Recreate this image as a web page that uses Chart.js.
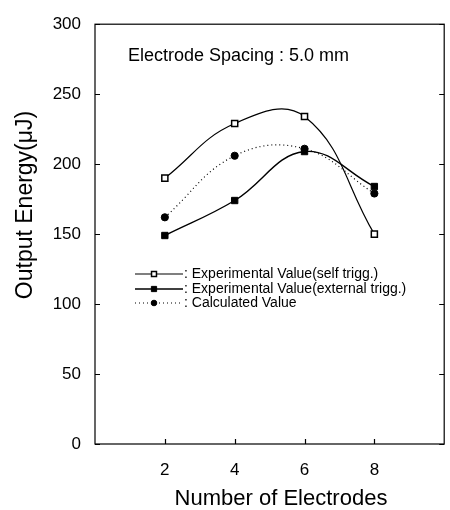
<!DOCTYPE html>
<html>
<head>
<meta charset="utf-8">
<script src="https://cdn.jsdelivr.net/npm/chart.js@4.4.1/dist/chart.umd.min.js"></script>
<style>
  body { margin: 0; background: #fff; }
  #wrap { width: 450px; height: 510px; }
</style>
</head>
<body>
<div id="wrap"><canvas id="energyChart"></canvas></div>
<script>
// DATA
const electrodes = [2, 4, 6, 8];
const selfTrigg = [190, 229, 234, 150];
const externalTrigg = [149, 174, 209, 184];
const calculated = [162, 206, 211, 179];
const xTicks = [2, 4, 6, 8];
const yTicks = [0, 50, 100, 150, 200, 250, 300];
const seriesLabels = [
    'Experimental Value(self trigg.)',
    'Experimental Value(external trigg.)',
    'Calculated Value'
];
const noteText = 'Electrode Spacing : 5.0 mm';
const xTitle = 'Number of Electrodes';
const yTitle = 'Output Energy(\u03bcJ)';

const FONT = '"Liberation Sans", Arial, sans-serif';

function toPoints(values) {
    return electrodes.map((x, i) => ({ x: x, y: values[i] }));
}

// frame, inward ticks, titles, note, legend
const decorPlugin = {
    id: 'decor',
    afterDraw(chart) {
        const ctx = chart.ctx;
        const a = chart.chartArea;
        const xs = chart.scales.x;
        const ys = chart.scales.y;
        ctx.save();
        ctx.strokeStyle = '#000';
        ctx.lineWidth = 1.2;
        ctx.strokeRect(a.left, a.top, a.right - a.left, a.bottom - a.top);

        ctx.beginPath();
        ys.ticks.forEach(t => {
            const py = Math.round(ys.getPixelForValue(t.value)) + 0.5;
            ctx.moveTo(a.left, py); ctx.lineTo(a.left + 5, py);
            ctx.moveTo(a.right, py); ctx.lineTo(a.right - 5, py);
        });
        xs.ticks.forEach(t => {
            const px = Math.round(xs.getPixelForValue(t.value)) + 0.5;
            ctx.moveTo(px, a.bottom); ctx.lineTo(px, a.bottom - 5);
        });
        ctx.stroke();

        ctx.fillStyle = '#000';
        // axis titles
        ctx.font = '22px ' + FONT;
        ctx.textAlign = 'center';
        ctx.textBaseline = 'alphabetic';
        ctx.fillText(xTitle, 281, 505);
        ctx.save();
        ctx.font = '23px ' + FONT;
        ctx.translate(32, 205);
        ctx.rotate(-Math.PI / 2);
        ctx.fillText(yTitle, 0, 0);
        ctx.restore();

        // note
        ctx.font = '18px ' + FONT;
        ctx.textAlign = 'left';
        ctx.fillText(noteText, 128, 61);

        // legend
        ctx.font = '14px ' + FONT;
        ctx.textBaseline = 'middle';
        const rowsY = [274, 289, 303];
        chart.data.datasets.forEach((ds, i) => {
            const y = rowsY[i];
            ctx.save();
            ctx.lineWidth = ds.borderWidth;
            ctx.setLineDash(ds.borderDash || []);
            ctx.beginPath();
            ctx.moveTo(135, y); ctx.lineTo(183, y);
            ctx.stroke();
            ctx.restore();
            ctx.save();
            ctx.lineWidth = ds.pointBorderWidth;
            ctx.fillStyle = ds.pointBackgroundColor;
            ctx.strokeStyle = ds.pointBorderColor;
            Chart.helpers.drawPoint(ctx, {
                pointStyle: ds.pointStyle, radius: ds.pointRadius - 0.8, rotation: 0, borderWidth: ds.pointBorderWidth
            }, 154, y);
            ctx.restore();
            ctx.fillText(': ' + seriesLabels[i], 184, y);
        });
        ctx.restore();
    }
};

const ctx = document.getElementById('energyChart').getContext('2d');
new Chart(ctx, {
    type: 'line',
    data: {
        datasets: [
            {
                label: seriesLabels[0],
                data: toPoints(selfTrigg),
                borderColor: '#000', borderWidth: 1.2, tension: 0.42,
                pointStyle: 'rect', pointRadius: 4.3, pointBorderWidth: 1.5,
                pointBackgroundColor: '#fff', pointBorderColor: '#000'
            },
            {
                label: seriesLabels[1],
                data: toPoints(externalTrigg),
                borderColor: '#000', borderWidth: 1.4, tension: 0.4,
                pointStyle: 'rect', pointRadius: 4.5, pointBorderWidth: 1,
                pointBackgroundColor: '#000', pointBorderColor: '#000'
            },
            {
                label: seriesLabels[2],
                data: toPoints(calculated),
                borderColor: '#000', borderWidth: 1.2, borderDash: [1, 3], tension: 0.4,
                pointStyle: 'circle', pointRadius: 3.6, pointBorderWidth: 1,
                pointBackgroundColor: '#000', pointBorderColor: '#000'
            }
        ]
    },
    options: {
        responsive: true,
        maintainAspectRatio: false,
        animation: false,
        layout: { padding: { top: 17, right: 1, left: 0, bottom: 0 } },
        plugins: { legend: { display: false }, tooltip: { enabled: false } },
        scales: {
            x: {
                type: 'linear', min: 0, max: 10,
                afterBuildTicks: s => { s.ticks = xTicks.map(v => ({ value: v })); },
                afterFit: s => { s.height = 66; },
                grid: { display: false, drawTicks: false },
                border: { display: false },
                ticks: { color: '#000', padding: 16, font: { family: FONT, size: 17 } }
            },
            y: {
                type: 'linear', min: 0, max: 300,
                afterBuildTicks: s => { s.ticks = yTicks.map(v => ({ value: v })); },
                afterFit: s => { s.width = 95; },
                grid: { display: false, drawTicks: false },
                border: { display: false },
                ticks: { color: '#000', padding: 14, font: { family: FONT, size: 17 } }
            }
        }
    },
    plugins: [decorPlugin]
});
</script>
</body>
</html>
